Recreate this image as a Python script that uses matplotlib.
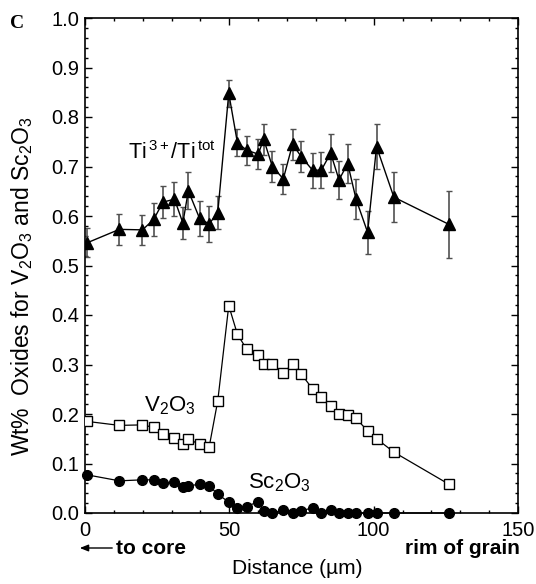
import matplotlib
matplotlib.use("Agg")
import matplotlib.pyplot as plt
from matplotlib.ticker import MultipleLocator

plt.rcParams['font.family'] = ['Liberation Sans', 'DejaVu Sans']
plt.rcParams['mathtext.fontset'] = 'custom'
plt.rcParams['mathtext.rm'] = 'Liberation Sans'
plt.rcParams['mathtext.it'] = 'Liberation Sans'
plt.rcParams['mathtext.bf'] = 'Liberation Sans:bold'

# ---- data ----
distance = [0.8, 11.9, 19.9, 23.8, 27.0, 31.0, 33.9, 35.8, 39.7, 43.0,
            46.0, 49.8, 52.8, 56.0, 60.0, 61.9, 64.9, 68.7, 71.9, 74.9,
            78.9, 81.9, 85.1, 88.0, 91.0, 93.9, 97.9, 101.0, 107.0, 126.1]

ti_ratio = [0.546, 0.573, 0.572, 0.593, 0.628, 0.634, 0.586, 0.651, 0.595, 0.584,
            0.607, 0.848, 0.748, 0.733, 0.725, 0.755, 0.700, 0.675, 0.745, 0.720,
            0.692, 0.693, 0.727, 0.673, 0.706, 0.634, 0.567, 0.740, 0.638, 0.583]
ti_err = [0.029, 0.031, 0.031, 0.033, 0.033, 0.034, 0.033, 0.037, 0.035, 0.037,
          0.034, 0.027, 0.027, 0.029, 0.030, 0.031, 0.031, 0.031, 0.031, 0.032,
          0.036, 0.036, 0.039, 0.038, 0.040, 0.041, 0.044, 0.046, 0.050, 0.067]

v2o3 = [0.185, 0.177, 0.178, 0.173, 0.160, 0.151, 0.139, 0.149, 0.139, 0.133,
        0.227, 0.419, 0.361, 0.331, 0.319, 0.302, 0.302, 0.282, 0.302, 0.281,
        0.250, 0.234, 0.216, 0.199, 0.197, 0.191, 0.166, 0.150, 0.123, 0.058]

sc2o3 = [0.077, 0.065, 0.067, 0.067, 0.060, 0.063, 0.053, 0.055, 0.058, 0.055,
         0.038, 0.022, 0.011, 0.013, 0.023, 0.005, 0.000, 0.006, 0.000, 0.004,
         0.011, 0.000, 0.006, 0.000, 0.000, 0.000, 0.000, 0.000, 0.000, 0.000]

x_ticks = [0, 50, 100, 150]
y_ticks = [0.0, 0.1, 0.2, 0.3, 0.4, 0.5, 0.6, 0.7, 0.8, 0.9, 1.0]

# ---- figure ----
W, H = 536, 584
fig = plt.figure(figsize=(W / 100, H / 100), dpi=100)
ax = fig.add_axes([85 / W, 1 - 513 / H, 433 / W, 495 / H])

ax.errorbar(distance, ti_ratio, yerr=ti_err, fmt='none', ecolor='#505050',
            elinewidth=1.2, capsize=2, capthick=1.0, zorder=2)
ax.plot(distance, ti_ratio, '-', color='black', lw=1.0, marker='^',
        markersize=8.5, markerfacecolor='black', markeredgecolor='black', zorder=3)
ax.plot(distance, v2o3, '-', color='black', lw=0.9, marker='s',
        markersize=7, markerfacecolor='white', markeredgecolor='black',
        markeredgewidth=1.0, zorder=3)
ax.plot(distance, sc2o3, '-', color='black', lw=0.9, marker='o',
        markersize=7, markerfacecolor='black', markeredgecolor='black',
        zorder=3, clip_on=False)

ax.set_xlim(0, 150)
ax.set_ylim(0, 1.0)
ax.set_xticks(x_ticks)
ax.set_xticklabels([str(t) for t in x_ticks])
ax.set_yticks(y_ticks)
ax.set_yticklabels([f"{t:.1f}" for t in y_ticks])
ax.xaxis.set_minor_locator(MultipleLocator(10))
ax.yaxis.set_minor_locator(MultipleLocator(0.02))
ax.tick_params(which='both', direction='in', top=True, right=True,
               labelsize=14.5, width=1.0)
ax.tick_params(which='major', length=5)
ax.tick_params(which='minor', length=2.5)
ax.tick_params(axis='x', which='major', pad=6)
ax.tick_params(axis='y', which='major', pad=4)
for s in ax.spines.values():
    s.set_linewidth(1.2)

fig.text(22 / W, 1 - 286 / H, r'Wt%  Oxides for V$_2$O$_3$ and Sc$_2$O$_3$',
         fontsize=16.5, rotation=90, ha='center', va='center')
fig.text(297 / W, 1 - 568 / H, 'Distance (\u00b5m)', fontsize=15,
         ha='center', va='center')

ax.text(30, 0.729, r'Ti$^{\,3+}$/Ti$^{\,\rm tot}$', fontsize=15.5, ha='center', va='center')
ax.text(29.5, 0.216, r'V$_2$O$_3$', fontsize=16, ha='center', va='center')
ax.text(67.5, 0.061, r'Sc$_2$O$_3$', fontsize=16, ha='center', va='center')

fig.text(10 / W, 1 - 23 / H, 'C', fontsize=14, fontweight='bold',
         family='Liberation Serif', ha='left', va='center')
fig.text(116 / W, 1 - 548 / H, 'to core', fontsize=15, fontweight='bold',
         ha='left', va='center')
fig.text(520 / W, 1 - 549 / H, 'rim of grain', fontsize=15, fontweight='bold',
         ha='right', va='center')
fig.patches.append(matplotlib.patches.FancyArrowPatch(
    (115 / W, 1 - 548 / H), (77 / W, 1 - 548 / H), transform=fig.transFigure,
    arrowstyle='-|>,head_length=5,head_width=2', color='black', lw=1.0,
    mutation_scale=1))

fig.savefig('out.png', dpi=100)
